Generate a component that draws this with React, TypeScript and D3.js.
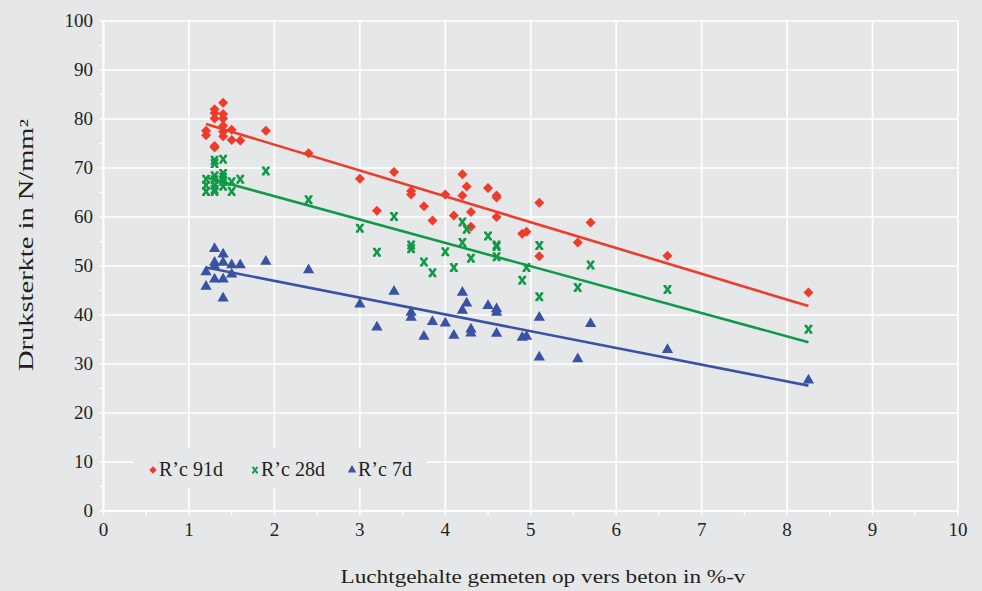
import React, { useEffect, useRef } from 'react';
import * as d3 from 'd3';

// Meetwaarden: luchtgehalte (%-v) en druksterkte (N/mm²) per ouderdom
const air91 = [1.2, 1.2, 1.3, 1.3, 1.3, 1.3, 1.3, 1.4, 1.4, 1.4, 1.4, 1.4, 1.4, 1.5, 1.5, 1.6, 1.9, 2.4, 3.0, 3.2, 3.4, 3.6, 3.6, 3.75, 3.85, 4.0, 4.1, 4.2, 4.2, 4.25, 4.3, 4.3, 4.5, 4.6, 4.6, 4.6, 4.9, 4.95, 5.1, 5.1, 5.55, 5.7, 6.6, 8.25];
const fc91 = [77.6, 76.7, 82.0, 81.2, 80.1, 74.5, 74.2, 83.3, 81.0, 80.1, 78.6, 77.4, 76.5, 77.8, 75.7, 75.6, 77.6, 73.0, 67.8, 61.3, 69.2, 65.3, 64.6, 62.2, 59.3, 64.6, 60.3, 68.7, 64.4, 66.2, 61.0, 58.0, 65.9, 64.4, 64.0, 60.0, 56.6, 57.0, 62.9, 52.0, 54.8, 58.9, 52.1, 44.6];

const air28 = [1.3, 1.3, 1.4, 1.9, 1.2, 1.2, 1.2, 1.3, 1.3, 1.3, 1.3, 1.3, 1.4, 1.4, 1.4, 1.4, 1.5, 1.5, 1.6, 2.4, 3.0, 3.4, 3.2, 3.6, 3.6, 3.75, 3.85, 4.0, 4.1, 4.2, 4.25, 4.2, 4.3, 4.6, 4.6, 4.6, 4.5, 5.1, 4.95, 4.9, 5.1, 5.7, 5.55, 6.6, 8.25];
const fc28 = [71.6, 70.9, 71.8, 69.4, 67.7, 66.5, 65.2, 68.4, 67.6, 66.5, 65.6, 65.2, 68.9, 68.1, 67.3, 66.3, 67.2, 65.2, 67.7, 63.5, 57.7, 60.1, 52.8, 54.3, 53.5, 50.8, 48.6, 52.9, 49.7, 59.0, 57.5, 54.8, 51.6, 54.3, 54.0, 51.9, 56.1, 54.2, 49.7, 47.1, 43.7, 50.2, 45.6, 45.2, 37.1];

const air7 = [1.3, 1.4, 1.3, 1.4, 1.5, 1.6, 1.9, 1.2, 1.3, 1.3, 1.4, 1.5, 1.2, 1.4, 2.4, 3.0, 3.2, 3.4, 3.6, 3.6, 3.75, 3.85, 4.0, 4.1, 4.2, 4.25, 4.2, 4.3, 4.3, 4.6, 4.6, 4.5, 4.6, 4.9, 4.95, 5.1, 5.1, 5.55, 5.7, 6.6, 8.25];
const fc7 = [53.5, 52.4, 50.7, 50.7, 50.2, 50.2, 50.9, 48.8, 50.0, 47.3, 47.3, 48.3, 45.8, 43.4, 49.2, 42.2, 37.5, 44.8, 40.5, 39.5, 35.6, 38.6, 38.3, 35.8, 44.6, 42.4, 40.9, 37.1, 36.3, 41.2, 40.5, 41.9, 36.2, 35.4, 35.6, 39.5, 31.4, 31.0, 38.2, 32.9, 26.7];

// Trendlijnen (y = a + b·x)
const seriesNames = ["R’c 91d", "R’c 28d", "R’c 7d"];
const seriesColors = ['#ef3b2a', '#0e9a47', '#3a52a3'];
const trendIntercept = [85.3, 73.8, 53.8];
const trendSlope = [-5.27, -4.77, -3.42];
const trendRange = [1.2, 8.25];

const xTicks = [0, 1, 2, 3, 4, 5, 6, 7, 8, 9, 10];
const yTicks = [0, 10, 20, 30, 40, 50, 60, 70, 80, 90, 100];

const serif = '"Liberation Serif", "DejaVu Serif", serif';

const App = () => {
  const svgRef = useRef<SVGSVGElement>(null);

  useEffect(() => {
    const svg = d3.select(svgRef.current);
    svg.selectAll('*').remove();

    const width = 982;
    const height = 591;
    const margin = { top: 21, right: 24, bottom: 80, left: 103.5 };

    svg.attr('width', width).attr('height', height);
    svg.append('rect').attr('width', width).attr('height', height).attr('fill', '#e6e7e9');

    const x = d3.scaleLinear().domain([0, 10]).range([margin.left, 958]);
    const y = d3.scaleLinear().domain([0, 100]).range([511, margin.top]);

    // rasterlijnen
    const grid = svg.append('g');
    grid.selectAll('.gx')
      .data(xTicks.slice(1))
      .enter()
      .append('line')
      .attr('x1', (d) => x(d))
      .attr('x2', (d) => x(d))
      .attr('y1', y(0))
      .attr('y2', y(100))
      .attr('stroke', '#fff')
      .attr('stroke-width', 1.6);
    grid.selectAll('.gy')
      .data(yTicks.slice(1))
      .enter()
      .append('line')
      .attr('x1', x(0))
      .attr('x2', x(10))
      .attr('y1', (d) => y(d))
      .attr('y2', (d) => y(d))
      .attr('stroke', '#fff')
      .attr('stroke-width', 1.6);

    // assen met kleine streepjes
    const axes = svg.append('g');
    axes.append('line')
      .attr('x1', x(0)).attr('x2', x(10)).attr('y1', y(0)).attr('y2', y(0))
      .attr('stroke', '#fff').attr('stroke-width', 2);
    axes.append('line')
      .attr('x1', x(0)).attr('x2', x(0)).attr('y1', y(0)).attr('y2', y(100))
      .attr('stroke', '#fff').attr('stroke-width', 2);
    axes.selectAll('.mx')
      .data(d3.range(0, 10.01, 0.5))
      .enter()
      .append('line')
      .attr('x1', (d) => x(d)).attr('x2', (d) => x(d))
      .attr('y1', y(0)).attr('y2', y(0) + 4)
      .attr('stroke', '#fff').attr('stroke-width', 1.5);
    axes.selectAll('.my')
      .data(d3.range(0, 100.1, 5))
      .enter()
      .append('line')
      .attr('x1', x(0) - 4).attr('x2', x(0))
      .attr('y1', (d) => y(d)).attr('y2', (d) => y(d))
      .attr('stroke', '#fff').attr('stroke-width', 1.5);

    // aslabels
    svg.selectAll('.xl')
      .data(xTicks)
      .enter()
      .append('text')
      .attr('x', (d) => x(d))
      .attr('y', 536)
      .attr('text-anchor', 'middle')
      .style('font-family', serif)
      .style('font-size', '19px')
      .style('fill', '#231f20')
      .text((d) => d);
    svg.selectAll('.yl')
      .data(yTicks)
      .enter()
      .append('text')
      .attr('x', 93)
      .attr('y', (d) => y(d) + 6)
      .attr('text-anchor', 'end')
      .style('font-family', serif)
      .style('font-size', '19px')
      .style('fill', '#231f20')
      .text((d) => d);

    svg.append('text')
      .attr('x', 543)
      .attr('y', 583)
      .attr('text-anchor', 'middle')
      .attr('textLength', 405)
      .attr('lengthAdjust', 'spacingAndGlyphs')
      .style('font-family', serif)
      .style('font-size', '19px')
      .style('fill', '#231f20')
      .text('Luchtgehalte gemeten op vers beton in %-v');
    svg.append('text')
      .attr('transform', 'translate(33,245) rotate(-90)')
      .attr('text-anchor', 'middle')
      .attr('textLength', 252)
      .attr('lengthAdjust', 'spacingAndGlyphs')
      .style('font-family', serif)
      .style('font-size', '20px')
      .style('fill', '#231f20')
      .text('Druksterkte in N/mm²');

    // markers
    const xMark = 'M-4,-4.5 L-1.5,-4.5 L0,-1.8 L1.5,-4.5 L4,-4.5 L4,-3 L1.6,0 L4,3 L4,4.5 L1.5,4.5 L0,1.8 L-1.5,4.5 L-4,4.5 L-4,3 L-1.6,0 L-4,-3 Z';
    const diamond = 'M0,-5 L5,0 L0,5 L-5,0 Z';
    const triangle = d3.symbol(d3.symbolTriangle, 55)() as string;
    const shapes = [diamond, xMark, triangle];

    const series = [
      { xs: air91, ys: fc91 },
      { xs: air28, ys: fc28 },
      { xs: air7, ys: fc7 },
    ];

    const line = d3.line<number>().x((d) => x(d));

    series.forEach((s, i) => {
      const pts = s.xs.map((v, j) => [v, s.ys[j]]);
      svg.append('g')
        .selectAll('path')
        .data(pts)
        .enter()
        .append('path')
        .attr('d', shapes[i])
        .attr('transform', (d) => `translate(${x(d[0])},${y(d[1])})`)
        .attr('fill', seriesColors[i]);

      line.y((d) => y(trendIntercept[i] + trendSlope[i] * d));
      svg.append('path')
        .attr('d', line(trendRange))
        .attr('fill', 'none')
        .attr('stroke', seriesColors[i])
        .attr('stroke-width', 2.6);
    });

    // legenda
    const legend = svg.append('g');
    legend.append('rect')
      .attr('x', 134).attr('y', 448).attr('width', 292).attr('height', 40)
      .attr('fill', '#e6e7e9');
    const legendX = [153, 255, 352];
    seriesNames.forEach((name, i) => {
      legend.append('path')
        .attr('d', shapes[i])
        .attr('transform', `translate(${legendX[i]},${470}) scale(0.75)`)
        .attr('fill', seriesColors[i]);
      legend.append('text')
        .attr('x', legendX[i] + 6)
        .attr('y', 476)
        .style('font-family', serif)
        .style('font-size', '20px')
        .style('fill', '#231f20')
        .text(name);
    });
  }, []);

  return (
    <div style={{ position: 'absolute', left: 0, top: 0 }}>
      <svg ref={svgRef} style={{ display: 'block' }}></svg>
    </div>
  );
};

export default App;
